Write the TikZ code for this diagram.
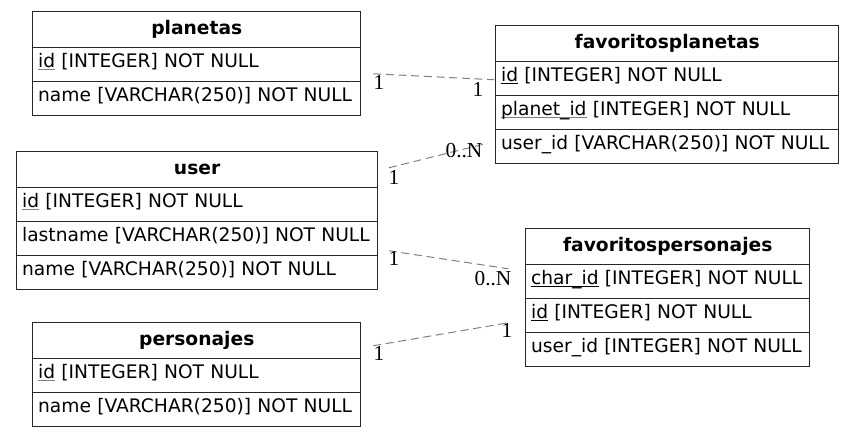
\documentclass[tikz,border=0pt]{standalone}
\usepackage{fontspec}
\setmainfont{DejaVu Sans}
\newfontfamily\cardfont{Liberation Serif}

\newcommand\pkey[2][gray]{\setbox0\hbox{#2}\rlap{\color{#1}\rule[-2.4pt]{\wd0}{0.75pt}}#2}

\begin{document}
\fontsize{14}{17}\selectfont
\begin{tikzpicture} [
    x=0.75pt, y=-0.75pt,
    table/.style    = { matrix, row sep=-0.75pt, inner sep=0pt, anchor=north west,
                        nodes={draw=black!85, line width=0.75pt, inner xsep=4pt, inner ysep=0pt} },
    head/.style     = { font=\bfseries, align=center, minimum height=27pt,
                        text height=10.6pt, text depth=4pt },
    field/.style    = { align=left, minimum height=25.5pt,
                        text height=10.6pt, text depth=7pt },
    rel/.style      = { draw=black!50, line width=0.75pt, dash pattern=on 6pt off 3.5pt },
    card/.style     = { font=\cardfont\fontsize{16}{16}\selectfont, inner sep=0pt },
  ]
  \useasboundingbox (0,0) rectangle (856,437);

  % Define nodes in matrix
  \matrix (planetas) [table, nodes={text width=238pt}] at (32,11) {
\node[head](planetas-head){planetas}; \\
\node[field](planetas-id){\pkey{id} [INTEGER] NOT NULL}; \\
\node[field](planetas-name){name [VARCHAR(250)] NOT NULL}; \\
  };
  \matrix (user) [table, nodes={text width=262.5pt}] at (16,151) {
\node[head](user-head){user}; \\
\node[field](user-id){\pkey{id} [INTEGER] NOT NULL}; \\
\node[field](user-lastname){lastname [VARCHAR(250)] NOT NULL}; \\
\node[field](user-name){name [VARCHAR(250)] NOT NULL}; \\
  };
  \matrix (personajes) [table, nodes={text width=238pt}] at (32,322) {
\node[head](personajes-head){personajes}; \\
\node[field](personajes-id){\pkey{id} [INTEGER] NOT NULL}; \\
\node[field](personajes-name){name [VARCHAR(250)] NOT NULL}; \\
  };
  \matrix (fplan) [table, nodes={text width=249.25pt}] at (495,25) {
\node[head](fplan-head){favoritosplanetas}; \\
\node[field](fplan-id){\pkey[black]{id} [INTEGER] NOT NULL}; \\
\node[field](fplan-planetid){\pkey{planet\_id} [INTEGER] NOT NULL}; \\
\node[field](fplan-userid){user\_id [VARCHAR(250)] NOT NULL}; \\
  };
  \matrix (fpers) [table, nodes={text width=205pt}] at (525,228) {
\node[head](fpers-head){favoritospersonajes}; \\
\node[field](fpers-charid){\pkey[black]{char\_id} [INTEGER] NOT NULL}; \\
\node[field](fpers-id){\pkey[black]{id} [INTEGER] NOT NULL}; \\
\node[field](fpers-userid){user\_id [INTEGER] NOT NULL}; \\
  };

  % connect the nodes
		\path [rel] ([shift={(12,9)}]planetas-id.east) -- ([shift={(-1,1)}]fplan-id.west);
		\path [rel] ([shift={(11,-2)}]user-head.east) -- ([shift={(-8,-3.5)}]fplan-userid.west);
		\path [rel] ([shift={(11,12)}]user-lastname.east) -- ([shift={(-17,-13)}]fpers-charid.west);
		\path [rel] ([shift={(12,5)}]personajes-head.east) -- ([shift={(-17,7)}]fpers-id.west);

  % cardinalities
		\node[card] (c-planetas) at (379,82) {1};
		\node[card] (c-fplan-id) at (478,89) {1};
		\node[card] (c-user-fplan) at (394,177) {1};
		\node[card] (c-fplan-user) at (464,151) {0..N};
		\node[card] (c-user-fpers) at (394,258) {1};
		\node[card] (c-fpers-user) at (493,279) {0..N};
		\node[card] (c-personajes) at (379,353) {1};
		\node[card] (c-fpers-char) at (507,330) {1};
\end{tikzpicture}
\end{document}
